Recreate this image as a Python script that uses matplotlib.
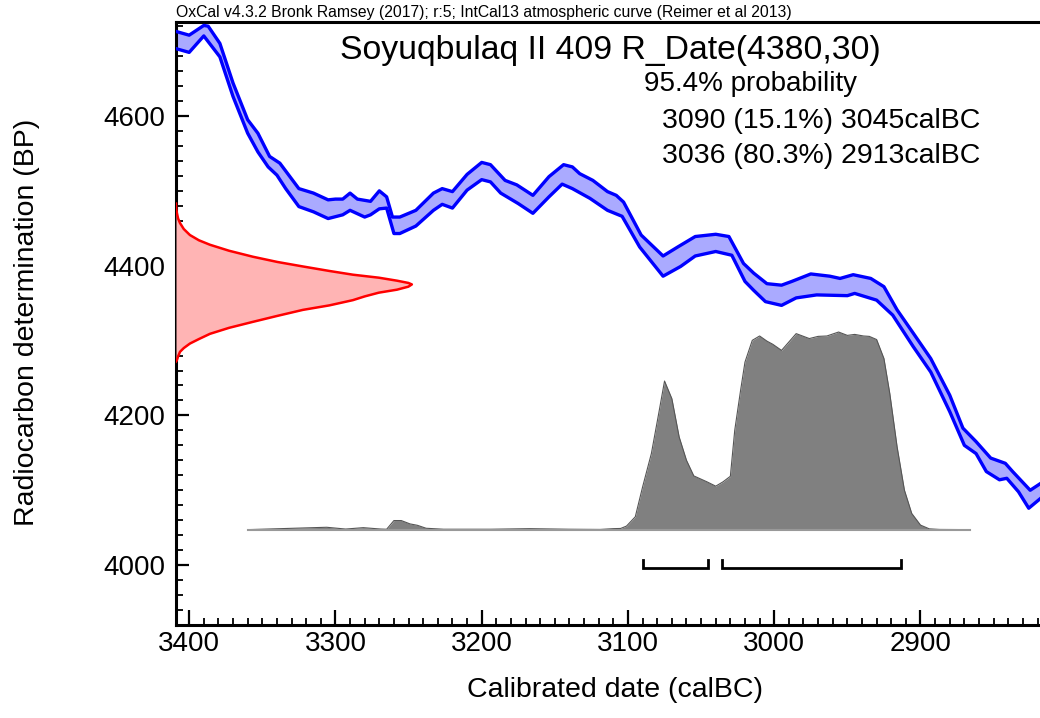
import numpy as np
import matplotlib
matplotlib.use("Agg")
import matplotlib.pyplot as plt
import matplotlib.transforms as mtransforms

plt.rcParams['font.family'] = ['Liberation Sans', 'DejaVu Sans']

# ---------------- data ----------------
# IntCal13 band, upper edge (calBC year, BP)
upper_year = [3409, 3400, 3390, 3387, 3379, 3370, 3360, 3353, 3345, 3338, 3325, 3315, 3305,
              3300, 3295, 3290, 3285, 3276, 3270, 3265, 3261, 3256, 3245, 3233, 3227, 3220,
              3210, 3200, 3194, 3184, 3176, 3165, 3154, 3144, 3138, 3133, 3124, 3114, 3108,
              3103, 3091, 3076, 3066, 3054, 3040, 3031, 3021, 3014, 3005, 2995, 2988, 2975,
              2962, 2955, 2946, 2934, 2925, 2916, 2905, 2893, 2880, 2871, 2862, 2852, 2842,
              2837, 2825, 2818]
upper_bp = [4713, 4708, 4721, 4720, 4697, 4644, 4595, 4577, 4546, 4537, 4503, 4497, 4488,
            4489, 4489, 4497, 4489, 4486, 4500, 4492, 4465, 4465, 4474, 4497, 4503, 4499,
            4522, 4538, 4535, 4514, 4508, 4494, 4519, 4535, 4532, 4523, 4514, 4499, 4494,
            4485, 4441, 4413, 4425, 4439, 4442, 4439, 4403, 4390, 4376, 4374, 4379, 4389,
            4386, 4383, 4388, 4383, 4372, 4341, 4310, 4276, 4227, 4183, 4165, 4143, 4136,
            4125, 4100, 4109]
# IntCal13 band, lower edge
lower_year = [3409, 3400, 3390, 3379, 3370, 3360, 3353, 3346, 3340, 3334, 3325, 3315, 3305,
              3295, 3290, 3280, 3276, 3270, 3265, 3260, 3256, 3245, 3233, 3227, 3220, 3210,
              3200, 3194, 3187, 3175, 3165, 3154, 3145, 3138, 3126, 3114, 3104, 3092, 3076,
              3064, 3054, 3040, 3029, 3020, 3014, 3006, 2995, 2985, 2971, 2950, 2945, 2930,
              2919, 2905, 2893, 2880, 2870, 2862, 2855, 2846, 2841, 2833, 2826, 2818]
lower_bp = [4690, 4685, 4707, 4679, 4626, 4577, 4552, 4532, 4521, 4503, 4479, 4472, 4463,
            4468, 4474, 4465, 4468, 4476, 4477, 4443, 4443, 4453, 4474, 4482, 4477, 4501,
            4515, 4512, 4497, 4483, 4470, 4492, 4509, 4503, 4490, 4474, 4466, 4425, 4386,
            4399, 4413, 4419, 4414, 4379, 4367, 4352, 4347, 4357, 4361, 4360, 4363, 4354,
            4334, 4292, 4258, 4205, 4160, 4149, 4125, 4114, 4116, 4098, 4076, 4089]

# Radiocarbon measurement distribution (BP, relative probability)
meas_bp = [4483, 4476, 4470, 4463, 4457, 4449, 4441, 4434, 4428, 4420, 4412, 4405, 4399,
           4393, 4388, 4384, 4380, 4377, 4375,
           4372, 4368, 4364, 4359, 4354, 4347, 4341, 4333, 4325, 4317, 4309, 4302, 4296,
           4290, 4285, 4279, 4274, 4272]
meas_prob = [0.0, 0.001, 0.004, 0.009, 0.017, 0.033, 0.059, 0.097, 0.144, 0.225, 0.326,
             0.43, 0.538, 0.65, 0.75, 0.86, 0.937, 0.985, 1.0,
             0.985, 0.937, 0.86, 0.80, 0.75, 0.65, 0.538, 0.43, 0.326, 0.225, 0.144,
             0.097, 0.059, 0.033, 0.017, 0.009, 0.004, 0.0]

# Calibrated distribution (calBC year, relative probability)
cal_year = [3360, 3306, 3293, 3281, 3269, 3265, 3260, 3255, 3249, 3244, 3238, 3226, 3194,
            3167, 3140, 3119, 3110, 3105, 3101, 3095, 3090, 3084, 3079, 3075, 3070, 3065,
            3060, 3055, 3046, 3040, 3035, 3030, 3027, 3023, 3020, 3015, 3010, 3005, 3001,
            2995, 2985, 2976, 2970, 2964, 2956, 2950, 2945, 2939, 2935, 2930, 2925, 2921,
            2916, 2911, 2906, 2900, 2894, 2887, 2866]
cal_prob = [0.0, 0.012, 0.003, 0.010, 0.003, 0.002, 0.046, 0.046, 0.029, 0.022, 0.007,
            0.002, 0.002, 0.005, 0.002, 0.001, 0.005, 0.006, 0.018, 0.065, 0.216, 0.385,
            0.587, 0.752, 0.663, 0.469, 0.351, 0.272, 0.242, 0.220, 0.242, 0.270, 0.503,
            0.705, 0.848, 0.958, 0.980, 0.954, 0.938, 0.907, 0.992, 0.967, 0.978, 0.980,
            1.0, 0.983, 0.988, 0.980, 0.978, 0.962, 0.866, 0.689, 0.419, 0.200, 0.082,
            0.023, 0.004, 0.001, 0.0]

# 95.4% ranges (calBC from, to)
range_from = [3090, 3036]
range_to = [3045, 2913]

header = "OxCal v4.3.2 Bronk Ramsey (2017); r:5; IntCal13 atmospheric curve (Reimer et al 2013)"
title = "Soyuqbulaq II 409 R_Date(4380,30)"
prob_label = "95.4% probability"
range_labels = ["3090 (15.1%) 3045calBC", "3036 (80.3%) 2913calBC"]
xlabel = "Calibrated date (calBC)"
ylabel = "Radiocarbon determination (BP)"

x_major = [3400, 3300, 3200, 3100, 3000, 2900]
y_major = [4000, 4200, 4400, 4600]

# ---------------- figure ----------------
W, H = 1040, 718
fig = plt.figure(figsize=(W / 100, H / 100), dpi=100)
ax = fig.add_axes([176 / W, (H - 625) / H, (W - 176) / W, (625 - 22) / H])
ax.set_xlim(3409, 2818.3)
ax.set_ylim(3920, 4725.6)

# calibration curve band
poly_x = list(upper_year) + list(lower_year[::-1])
poly_y = list(upper_bp) + list(lower_bp[::-1])
ax.fill(poly_x, poly_y, color='#aaaaff', lw=0, zorder=2)
ax.plot(upper_year, upper_bp, color='#0000ff', lw=2.4, zorder=3, solid_joinstyle='round')
ax.plot(lower_year, lower_bp, color='#0000ff', lw=2.4, zorder=3, solid_joinstyle='round')

# measurement distribution on the y axis (x in axes fraction)
trans_meas = mtransforms.blended_transform_factory(ax.transAxes, ax.transData)
meas_w = 0.273
mx = [p * meas_w for p in meas_prob]
ax.fill_betweenx(meas_bp, 0, mx, transform=trans_meas, color='#ffb4b4', lw=0, zorder=4)
ax.plot(mx, meas_bp, transform=trans_meas, color='#ff0000', lw=1.8, zorder=5,
        solid_joinstyle='round')

# calibrated distribution
base_bp = 4047.4
cal_scale = 264.0
cy = [base_bp + p * cal_scale for p in cal_prob]
ax.fill_between(cal_year, base_bp, cy, color='#808080', lw=0, zorder=4)
ax.plot(cal_year, cy, color='#555555', lw=0.8, zorder=5)
ax.plot([cal_year[0], cal_year[-1]], [base_bp, base_bp], color='#999999', lw=1.5, zorder=5)

# range brackets
for a, b in zip(range_from, range_to):
    ax.plot([a, a, b, b], [4007.5, 3995.5, 3995.5, 4007.5], color='black', lw=2.0,
            zorder=6, solid_joinstyle='miter')

# axes styling
ax.set_xticks(x_major)
ax.set_xticks(np.arange(2820, 3410, 10), minor=True)
ax.set_yticks(y_major)
ax.set_yticks(np.arange(3920, 4726, 20), minor=True)
ax.set_xticklabels([str(v) for v in x_major])
ax.set_yticklabels([str(v) for v in y_major])
ax.tick_params(axis='x', which='major', direction='in', length=11, width=1.6, labelsize=20, pad=4)
ax.tick_params(axis='x', which='minor', direction='in', length=5, width=1.3)
ax.tick_params(axis='y', which='major', direction='in', length=9, width=1.6, labelsize=20, pad=8)
ax.tick_params(axis='y', which='minor', direction='in', length=5, width=1.3)
for s in ['left', 'bottom', 'top']:
    ax.spines[s].set_linewidth(2.2)
ax.spines['right'].set_visible(False)

# axis labels
fig.text(615 / W, 1 - 690 / H, xlabel, fontsize=20.5, ha='center', va='center')
fig.text(27 / W, 1 - 322 / H, ylabel, fontsize=20.5, ha='center', va='center', rotation=90)

# texts
fig.text(176 / W, 1 - 12 / H, header, fontsize=11.3, ha='left', va='center')
fig.text(610 / W, 1 - 50 / H, title, fontsize=24.3, ha='center', va='center')
fig.text(644 / W, 1 - 84 / H, prob_label, fontsize=20, ha='left', va='center')
fig.text(662 / W, 1 - 121 / H, range_labels[0], fontsize=20.5, ha='left', va='center')
fig.text(662 / W, 1 - 156 / H, range_labels[1], fontsize=20.5, ha='left', va='center')

fig.savefig("out.png", dpi=100)
